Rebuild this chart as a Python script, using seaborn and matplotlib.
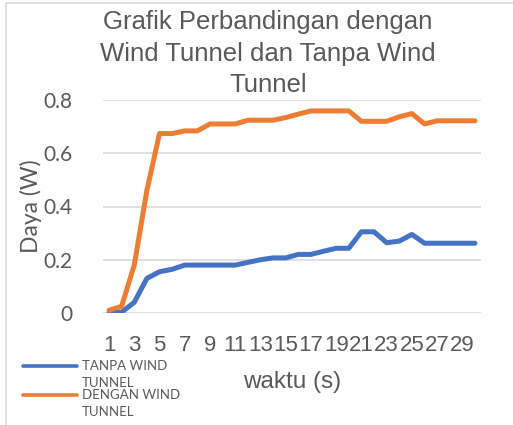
import matplotlib
matplotlib.use('Agg')
import matplotlib.pyplot as plt
from matplotlib.lines import Line2D
from matplotlib.patches import Rectangle
import seaborn as sns
import pandas as pd

# --- DATA ---
waktu = list(range(1, 31))
tanpa_wind = [0.0, 0.003, 0.04, 0.13, 0.155, 0.164, 0.18, 0.18, 0.18, 0.18,
              0.18, 0.19, 0.2, 0.207, 0.207, 0.22, 0.22, 0.232, 0.243, 0.243,
              0.305, 0.305, 0.264, 0.27, 0.295, 0.262, 0.262, 0.262, 0.262, 0.262]
dengan_wind = [0.01, 0.025, 0.18, 0.46, 0.674, 0.674, 0.684, 0.684, 0.71, 0.71,
               0.71, 0.724, 0.724, 0.724, 0.734, 0.747, 0.759, 0.759, 0.759, 0.759,
               0.72, 0.72, 0.72, 0.737, 0.749, 0.71, 0.722, 0.722, 0.722, 0.722]
series_names = ['TANPA WIND TUNNEL', 'DENGAN WIND TUNNEL']
legend_labels = ['TANPA WIND\nTUNNEL', 'DENGAN WIND\nTUNNEL']
colors = ['#4472C4', '#ED7D31']
x_ticks = list(range(1, 30, 2))
y_ticks = [0, 0.2, 0.4, 0.6, 0.8]
y_ticklabels = ['0', '0.2', '0.4', '0.6', '0.8']

df = pd.DataFrame({
    'waktu': waktu * 2,
    'daya': tanpa_wind + dengan_wind,
    'seri': [series_names[0]] * 30 + [series_names[1]] * 30,
})

sns.set_style('white')
grey = '#595959'
W, H = 513, 425

fig = plt.figure(figsize=(W / 100, H / 100), dpi=100)
ax = fig.add_axes([102.7 / W, 1 - 313 / H, 378.6 / W, 213 / H])

sns.lineplot(data=df, x='waktu', y='daya', hue='seri', palette=colors,
             linewidth=3.6, legend=False, ax=ax, solid_capstyle='round')

ax.set_xlim(0.5, 30.5)
ax.set_ylim(0, 0.8)
ax.set_xticks(x_ticks)
ax.set_xticklabels([str(t) for t in x_ticks], fontsize=16, color=grey,
                   family='Liberation Sans')
ax.set_yticks(y_ticks)
ax.set_yticklabels(y_ticklabels, fontsize=15, color=grey, family='Lato')
ax.tick_params(axis='both', length=0)
ax.tick_params(axis='x', pad=16)
ax.tick_params(axis='y', pad=22)
ax.grid(axis='y', color='#D9D9D9', linewidth=1.2)
ax.grid(axis='x', visible=False)
ax.set_axisbelow(True)
for s in ax.spines.values():
    s.set_visible(False)

ax.set_ylabel('Daya (W)', fontsize=16.5, color=grey, family='Lato')
ax.yaxis.set_label_coords(-0.16, 0.5)
ax.set_xlabel('waktu (s)', fontsize=17.5, color=grey, family='Liberation Sans')
ax.xaxis.set_label_coords(0.5, -0.27)

fig.text(268 / W, 1 - 10 / H,
         'Grafik Perbandingan dengan\nWind Tunnel dan Tanpa Wind\nTunnel',
         ha='center', va='top', fontsize=18.5, color=grey,
         family='Liberation Sans', linespacing=1.4)

# legend drawn by hand, Excel style
for i, (lab, c) in enumerate(zip(legend_labels, colors)):
    yy = 1 - (366 + 29 * i) / H
    fig.add_artist(Line2D([23 / W, 77 / W], [yy, yy], color=c, linewidth=2.6,
                          solid_capstyle='round', transform=fig.transFigure))
    fig.text(82 / W, yy + 6 / H, lab, ha='left', va='top', fontsize=9.5,
             color=grey, family='Lato', linespacing=1.5)

# chart area border
fig.add_artist(Rectangle((6 / W, -0.1), 1.2, 1 - 3 / H + 0.1, fill=False,
                         edgecolor='#D9D9D9', linewidth=1.2,
                         transform=fig.transFigure))

fig.savefig('out.png', dpi=100)
